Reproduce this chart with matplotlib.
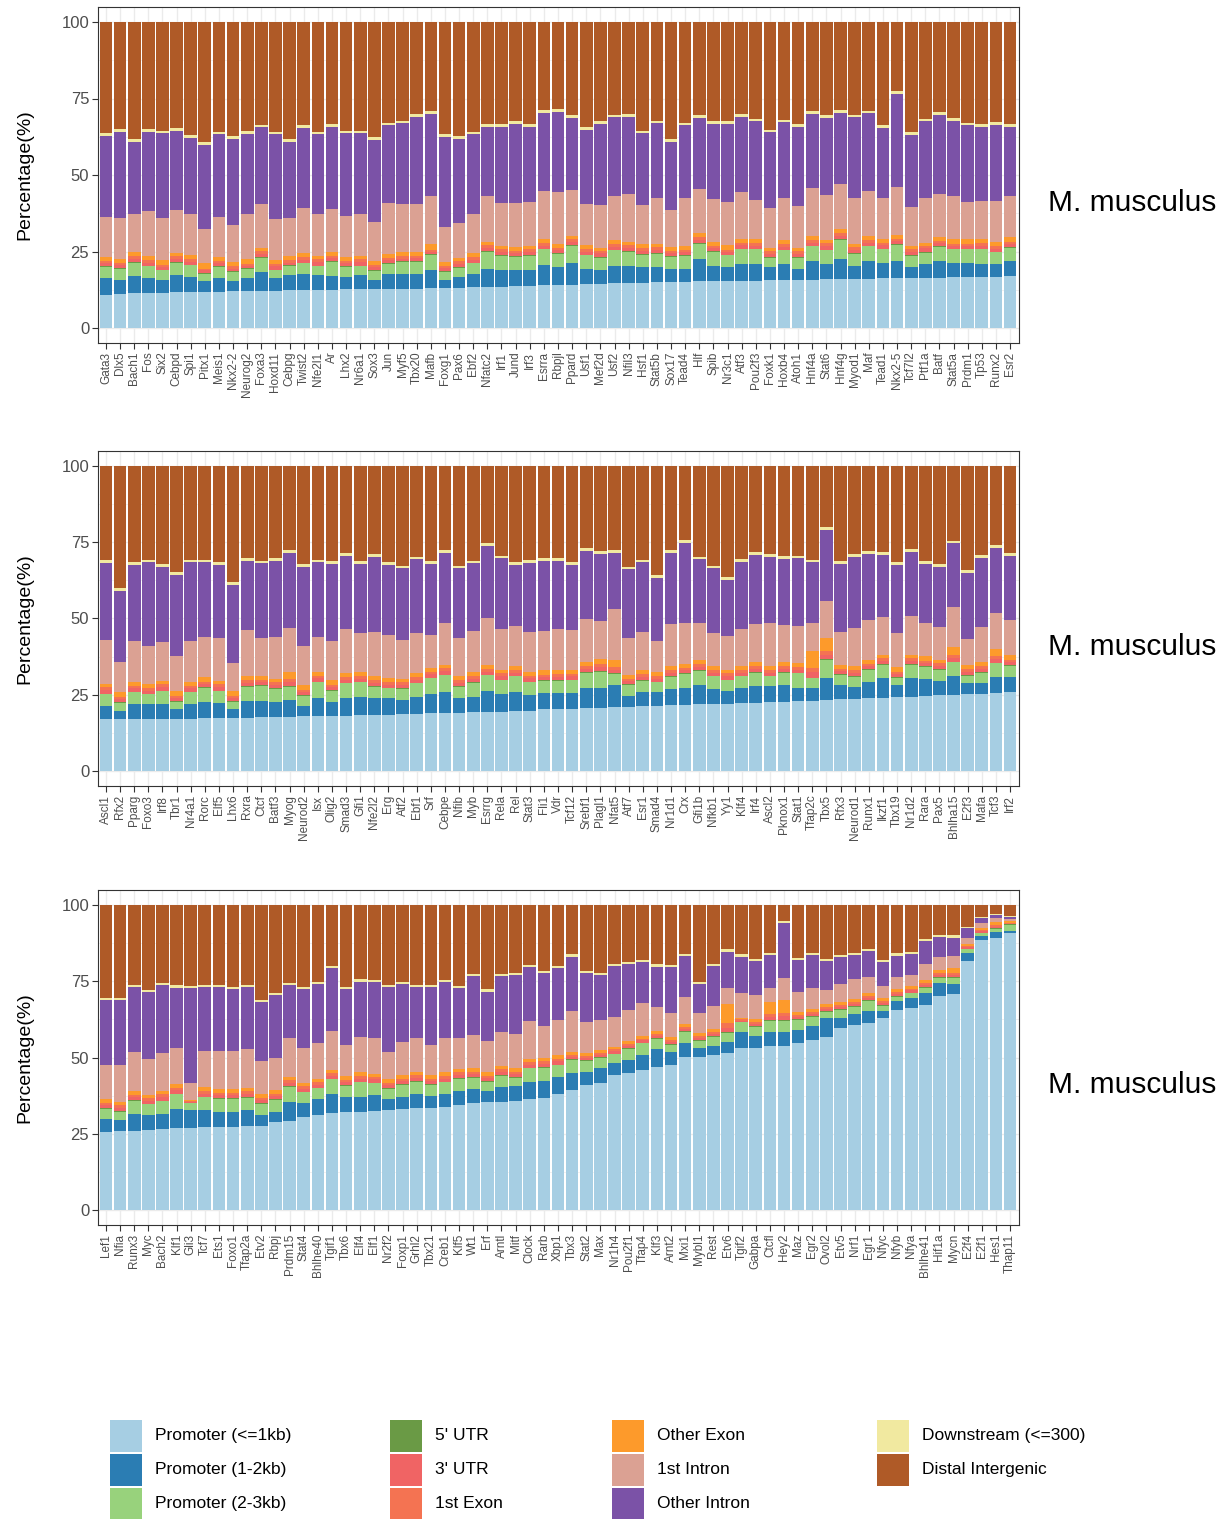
import numpy as np
import matplotlib
matplotlib.use("Agg")
import matplotlib.pyplot as plt
from matplotlib.patches import Rectangle

plt.rcParams['font.family'] = ['Liberation Sans', 'DejaVu Sans']

categories = ["Promoter (<=1kb)", "Promoter (1-2kb)", "Promoter (2-3kb)", "5' UTR", "3' UTR",
              "1st Exon", "Other Exon", "1st Intron", "Other Intron", "Downstream (<=300)",
              "Distal Intergenic"]
colors = ["#A6CEE3", "#2B7DB3", "#98D27C", "#6A9A45", "#F06464", "#F47352", "#FD9A2B",
          "#DBA193", "#7B52A7", "#F1E9A0", "#AF5A27"]

# ---------------- panel 1 ----------------
names1 = ["Gata3", "Dlx5", "Bach1", "Fos", "Six2", "Cebpd", "Spi1", "Pitx1", "Meis1", "Nkx2-2",
          "Neurog2", "Foxa3", "Hoxd11", "Cebpg", "Twist2", "Nfe2l1", "Ar", "Lhx2", "Nr6a1", "Sox3",
          "Jun", "Myf5", "Tbx20", "Mafb", "Foxg1", "Pax6", "Ebf2", "Nfatc2", "Irf1", "Jund",
          "Irf3", "Esrra", "Rbpjl", "Ppard", "Usf1", "Mef2d", "Usf2", "Nfil3", "Hsf1", "Stat5b",
          "Sox17", "Tead4", "Hlf", "Spib", "Nr3c1", "Atf3", "Pou2f3", "Foxk1", "Hoxb4", "Atoh1",
          "Hnf4a", "Stat6", "Hnf4g", "Myod1", "Maf", "Tead1", "Nkx2-5", "Tcf7l2", "Ptf1a", "Batf",
          "Stat5a", "Prdm1", "Tp53", "Runx2", "Esr2"]
prom1kb_1 = [10.9, 11.2, 11.3, 11.5, 11.6, 11.7, 11.8, 11.9, 11.9, 12.0, 12.1, 12.1, 12.2, 12.3,
             12.4, 12.4, 12.5, 12.6, 12.6, 12.7, 12.8, 12.8, 12.9, 13.0, 13.1, 13.2, 13.3, 13.4,
             13.5, 13.6, 13.8, 13.9, 14.1, 14.2, 14.3, 14.5, 14.6, 14.7, 14.8, 14.9, 15.0, 15.1,
             15.2, 15.3, 15.4, 15.5, 15.5, 15.6, 15.7, 15.8, 15.8, 15.9, 16.0, 16.1, 16.1, 16.2,
             16.3, 16.4, 16.4, 16.5, 16.6, 16.6, 16.7, 16.8, 16.9]
prom2kb_1 = [5.3, 4.4, 5.7, 4.9, 4.0, 5.5, 4.9, 3.4, 4.3, 3.3, 4.1, 6.2, 4.0, 4.9, 5.1, 4.8, 4.5,
             4.1, 4.6, 2.9, 4.8, 5.0, 4.6, 5.9, 2.5, 3.4, 4.2, 6.0, 5.4, 5.3, 5.1, 6.6, 5.9, 6.9,
             5.1, 4.4, 5.7, 5.6, 5.2, 5.1, 4.4, 4.3, 7.2, 5.0, 4.4, 5.4, 5.4, 4.2, 5.2, 3.6, 6.0,
             5.0, 6.7, 4.2, 5.7, 5.2, 5.6, 3.6, 4.5, 5.4, 4.8, 4.8, 4.2, 4.1, 5.0]
prom3kb_1 = [3.8, 3.8, 4.4, 3.8, 3.3, 4.1, 3.8, 2.5, 3.8, 3.0, 3.2, 4.6, 2.7, 3.1, 3.6, 3.0, 4.6,
             3.3, 3.0, 3.1, 3.4, 3.8, 4.1, 5.1, 2.7, 3.1, 3.6, 5.5, 4.7, 4.4, 4.7, 5.2, 4.3, 5.8,
             4.4, 4.1, 5.1, 4.6, 4.0, 4.3, 3.9, 4.2, 5.2, 4.6, 4.0, 4.8, 4.8, 3.1, 4.5, 3.5, 4.9,
             4.5, 6.2, 4.0, 4.9, 4.3, 5.2, 3.6, 3.7, 4.6, 4.3, 4.3, 4.8, 3.8, 4.4]
utr5_1 = [0.2] * 65
utr3_1 = [1.0, 0.9, 1.1, 1.0, 0.9, 1.1, 1.0, 0.8, 1.0, 0.9, 0.8, 1.2, 1.0, 0.9, 1.0, 1.1, 1.0,
          0.9, 1.1, 0.9, 1.0, 0.9, 1.0, 0.8, 1.0, 1.1, 1.0, 1.2, 1.1, 1.0, 1.1, 1.0, 1.0, 1.1,
          1.0, 1.2, 1.0, 1.1, 1.0, 1.1, 1.0, 0.9, 1.1, 1.0, 0.9, 1.1, 1.0, 1.1, 1.0, 1.1, 1.0,
          1.2, 1.0, 1.1, 1.0, 1.1, 1.0, 1.1, 1.2, 1.0, 0.9, 0.9, 1.0, 1.0, 0.9]
exon1_1 = [0.8, 0.7, 0.9, 0.8, 0.7, 0.9, 0.8, 0.6, 0.8, 0.7, 0.6, 0.8, 0.8, 0.7, 0.8, 0.9, 0.8,
           0.7, 0.9, 0.7, 0.8, 0.7, 0.8, 0.6, 0.8, 0.9, 0.8, 0.9, 0.9, 0.8, 0.9, 0.8, 0.8, 0.9,
           0.8, 0.9, 0.8, 0.9, 0.8, 0.9, 0.8, 0.7, 0.9, 0.8, 0.7, 0.9, 0.8, 0.9, 0.8, 0.9, 0.8,
           0.9, 0.8, 0.9, 0.8, 0.9, 0.8, 0.9, 0.8, 0.8, 0.7, 0.7, 0.8, 0.8, 0.7]
oexon_1 = [1.3, 1.5, 1.1, 1.3, 1.5, 1.1, 1.3, 1.7, 1.3, 1.5, 1.7, 1.1, 1.3, 1.5, 1.3, 1.1, 1.3,
           1.5, 1.1, 1.5, 1.3, 1.5, 1.3, 1.7, 1.3, 1.1, 1.3, 1.0, 1.1, 1.3, 1.1, 1.3, 1.3, 1.1,
           1.3, 1.0, 1.3, 1.1, 1.3, 1.1, 1.3, 1.5, 1.1, 1.3, 1.5, 1.1, 1.3, 1.1, 1.3, 1.1, 1.3,
           1.0, 1.3, 1.1, 1.3, 1.1, 1.3, 1.1, 1.1, 1.3, 1.5, 1.5, 1.3, 1.3, 1.5]
intron1_1 = [13.1, 13.4, 12.5, 14.7, 13.6, 13.9, 13.4, 11.4, 13.1, 12.2, 14.4, 14.3, 13.4, 12.2,
             14.7, 13.7, 14.0, 13.2, 13.9, 12.5, 16.4, 15.5, 15.5, 15.9, 11.5, 11.2, 12.8, 15.0,
             13.8, 14.3, 14.4, 15.9, 16.9, 14.9, 13.4, 13.9, 14.5, 15.5, 12.9, 15.0, 11.9, 15.5,
             14.4, 13.9, 14.2, 15.3, 12.8, 13.1, 13.7, 13.6, 15.6, 14.7, 14.9, 15.0, 14.8, 13.6,
             15.8, 12.7, 14.5, 13.9, 14.2, 12.3, 12.5, 13.5, 13.6]
intronO_1 = [26.4, 28.1, 23.7, 26.0, 27.8, 25.9, 25.0, 27.3, 26.9, 28.0, 26.3, 25.1, 27.7, 25.1,
             26.4, 26.1, 26.9, 27.1, 26.2, 27.0, 25.5, 26.5, 28.7, 26.8, 29.3, 27.6, 26.1, 22.6,
             25.1, 25.7, 24.4, 25.5, 26.2, 23.5, 24.2, 26.4, 25.6, 25.4, 23.4, 24.3, 22.4, 23.8,
             23.3, 24.5, 25.3, 24.8, 25.7, 24.6, 24.8, 26.0, 24.4, 25.2, 23.3, 26.2, 25.3, 22.9,
             30.2, 23.5, 25.1, 26.0, 24.5, 24.9, 24.3, 24.9, 22.6]
down_1 = [0.9] * 65

# ---------------- panel 2 ----------------
names2 = ["Ascl1", "Rfx2", "Pparg", "Foxo3", "Irf8", "Tbr1", "Nr4a1", "Rorc", "Elf5", "Lhx6",
          "Rxra", "Ctcf", "Batf3", "Myog", "Neurod2", "Isx", "Olig2", "Smad3", "Gfi1", "Nfe2l2",
          "Erg", "Atf2", "Ebf1", "Srf", "Cebpe", "Nfib", "Myb", "Esrrg", "Rela", "Rel", "Stat3",
          "Fli1", "Vdr", "Tcf12", "Srebf1", "Plagl1", "Nfat5", "Atf7", "Esr1", "Smad4", "Nr1d1",
          "Crx", "Gfi1b", "Nfkb1", "Yy1", "Klf4", "Irf4", "Ascl2", "Pknox1", "Stat1", "Tfap2c",
          "Tbx5", "Rfx3", "Neurod1", "Runx1", "Ikzf1", "Tbx19", "Nr1d2", "Rara", "Pax5",
          "Bhlha15", "E2f3", "Mafa", "Tcf3", "Irf2"]
prom1kb_2 = [16.9, 16.9, 17.0, 17.0, 17.1, 17.1, 17.2, 17.3, 17.3, 17.4, 17.5, 17.6, 17.7, 17.8,
             17.9, 18.0, 18.1, 18.2, 18.3, 18.3, 18.4, 18.6, 18.8, 18.9, 19.0, 19.1, 19.2, 19.4,
             19.5, 19.7, 19.8, 20.2, 20.4, 20.5, 20.6, 20.7, 20.9, 21.0, 21.2, 21.4, 21.5, 21.7,
             21.9, 22.0, 22.1, 22.3, 22.4, 22.6, 22.7, 22.9, 23.1, 23.3, 23.5, 23.6, 23.8, 24.0,
             24.2, 24.4, 24.6, 24.8, 25.0, 25.2, 25.4, 25.6, 25.8]
prom2kb_2 = [4.4, 2.8, 4.9, 4.9, 4.9, 3.1, 4.7, 5.4, 4.9, 3.0, 5.6, 5.5, 5.0, 5.5, 3.4, 5.8, 4.6,
             5.6, 6.1, 5.5, 5.4, 4.7, 5.6, 6.3, 6.8, 4.7, 5.2, 6.9, 5.7, 6.3, 5.1, 5.3, 5.1, 5.2,
             6.5, 6.6, 7.3, 3.7, 4.6, 4.4, 5.3, 5.4, 6.3, 5.0, 4.2, 4.9, 5.5, 5.3, 5.5, 4.2, 4.0,
             7.3, 4.7, 4.1, 5.3, 6.4, 4.0, 6.2, 5.6, 4.7, 6.3, 3.5, 3.3, 5.3, 5.1]
prom3kb_2 = [3.9, 2.7, 3.9, 3.2, 4.2, 2.5, 3.9, 4.6, 4.0, 2.3, 4.6, 4.8, 4.2, 4.4, 3.4, 5.3, 3.6,
             4.9, 4.7, 3.9, 3.3, 3.6, 4.3, 5.2, 5.6, 3.9, 4.6, 5.1, 4.6, 5.1, 4.2, 4.1, 4.1, 4.1,
             5.1, 5.3, 3.6, 3.5, 3.8, 3.3, 4.1, 4.7, 4.7, 4.1, 3.5, 3.9, 4.3, 3.2, 4.0, 4.9, 3.3,
             5.8, 3.3, 3.2, 4.0, 4.4, 2.4, 4.2, 4.0, 3.6, 4.3, 2.6, 3.5, 4.4, 3.6]
utr5_2 = [0.2] * 65
utr3_2 = [1.1, 1.0, 1.1, 1.0, 1.1, 1.0, 1.1, 1.0, 1.1, 0.9, 1.1, 1.0, 1.1, 1.2, 1.0, 1.1, 1.0,
          1.1, 1.0, 1.1, 1.0, 1.1, 1.0, 1.1, 1.2, 1.0, 1.1, 1.0, 1.1, 1.0, 1.1, 1.0, 1.1, 1.0,
          1.1, 1.3, 1.2, 1.0, 1.1, 1.0, 1.1, 1.0, 1.1, 1.0, 1.1, 1.0, 1.1, 1.0, 1.1, 1.0, 2.0,
          1.6, 1.0, 1.1, 1.0, 1.1, 1.0, 1.1, 1.0, 1.1, 1.3, 1.0, 1.1, 1.2, 1.0]
exon1_2 = [0.9, 0.8, 0.9, 0.8, 0.9, 0.8, 0.9, 0.8, 0.9, 0.7, 0.9, 0.8, 0.9, 1.0, 0.8, 0.9, 0.8,
           0.9, 0.8, 0.9, 0.8, 0.9, 0.8, 0.9, 1.0, 0.8, 0.9, 0.8, 0.9, 0.8, 0.9, 0.8, 0.9, 0.8,
           0.9, 1.0, 1.0, 0.8, 0.9, 0.8, 0.9, 0.8, 0.9, 0.8, 0.9, 0.8, 0.9, 0.8, 0.9, 0.8, 1.3,
           1.2, 0.8, 0.9, 0.8, 0.9, 0.8, 0.9, 0.8, 0.9, 1.0, 0.8, 0.9, 1.0, 0.8]
oexon_2 = [1.2, 1.4, 1.2, 1.4, 1.2, 1.4, 1.2, 1.4, 1.2, 1.6, 1.2, 1.4, 1.2, 2.4, 1.4, 1.2, 1.4,
           1.2, 1.4, 1.2, 1.4, 1.2, 1.4, 1.2, 1.0, 1.4, 1.2, 1.4, 1.2, 1.4, 1.2, 1.4, 1.2, 1.4,
           1.2, 1.5, 2.1, 1.4, 1.2, 1.4, 1.2, 1.4, 1.2, 1.4, 1.2, 1.4, 1.2, 1.4, 1.2, 1.4, 5.5,
           4.2, 1.4, 1.2, 1.4, 1.2, 1.4, 1.2, 1.4, 1.2, 2.5, 1.4, 1.2, 2.2, 1.4]
intron1_2 = [14.4, 10.0, 13.4, 12.5, 12.8, 11.6, 13.5, 13.3, 13.9, 9.4, 15.1, 12.2, 13.7, 14.3,
             12.9, 11.3, 12.9, 14.3, 12.6, 14.6, 14.1, 12.7, 13.3, 10.8, 13.8, 12.4, 13.5, 15.3,
             13.4, 13.0, 13.0, 13.0, 13.4, 13.0, 14.1, 12.7, 16.7, 11.9, 12.7, 10.2, 13.9, 13.2,
             12.1, 10.6, 11.1, 11.9, 12.6, 13.9, 12.3, 12.1, 9.0, 12.2, 10.8, 12.5, 13.0, 12.2,
             11.1, 12.6, 11.0, 10.6, 13.1, 8.5, 11.7, 11.8, 11.6]
intronO_2 = [25.3, 23.3, 24.9, 27.4, 24.6, 26.5, 25.7, 24.4, 24.0, 25.5, 22.7, 24.6, 24.9, 24.8,
             25.8, 24.6, 25.3, 24.1, 22.8, 24.6, 22.9, 23.4, 24.0, 23.2, 22.8, 22.9, 22.2, 23.7,
             23.1, 20.0, 22.8, 22.9, 22.5, 21.3, 22.5, 21.8, 18.6, 22.6, 22.7, 20.5, 23.2, 26.5,
             21.0, 21.3, 18.3, 22.2, 22.6, 21.9, 21.6, 22.2, 20.0, 23.2, 22.2, 23.5, 21.6, 20.4,
             22.4, 21.1, 19.3, 19.9, 20.9, 21.8, 22.6, 21.5, 21.1]
down_2 = [0.9] * 65

# ---------------- panel 3 ----------------
names3 = ["Lef1", "Nfia", "Runx3", "Myc", "Bach2", "Klf1", "Gli3", "Tcf7", "Ets1", "Foxo1",
          "Tfap2a", "Etv2", "Rbpj", "Prdm15", "Stat4", "Bhlhe40", "Tgif1", "Tbx6", "Elf4", "Elf1",
          "Nr2f2", "Foxp1", "Grhl2", "Tbx21", "Creb1", "Klf5", "Wt1", "Erf", "Arntl", "Mitf",
          "Clock", "Rarb", "Xbp1", "Tbx3", "Stat2", "Max", "Nr1h4", "Pou2f1", "Tfap4", "Klf3",
          "Arnt2", "Mxi1", "Mybl1", "Rest", "Etv6", "Tgif2", "Gabpa", "Ctcfl", "Hey2", "Maz",
          "Egr2", "Ovol2", "Etv5", "Nrf1", "Egr1", "Nfyc", "Nfyb", "Nfya", "Bhlhe41", "Hif1a",
          "Mycn", "E2f4", "E2f1", "Hes1", "Thap11"]
prom1kb_3 = [25.7, 25.9, 26.0, 26.1, 26.6, 26.9, 27.0, 27.1, 27.2, 27.3, 27.5, 27.5, 28.7, 29.2,
             30.4, 31.1, 31.7, 32.2, 32.2, 32.5, 32.8, 33.0, 33.3, 33.3, 33.9, 34.4, 35.0, 35.3,
             35.5, 35.8, 36.3, 36.6, 38.0, 39.3, 41.0, 41.5, 44.3, 44.8, 45.9, 47.0, 47.5, 50.3,
             50.3, 50.8, 51.4, 53.0, 53.2, 53.8, 53.8, 54.6, 55.7, 56.8, 59.6, 60.7, 61.2, 62.8,
             65.6, 66.3, 67.2, 70.2, 70.7, 81.6, 88.5, 89.1, 90.7]
prom2kb_3 = [4.1, 3.6, 5.4, 5.0, 4.8, 6.2, 5.8, 5.7, 5.0, 4.9, 5.3, 3.6, 3.5, 6.1, 4.6, 5.2, 6.4,
             5.0, 5.0, 5.2, 3.6, 4.2, 4.7, 4.2, 4.1, 4.7, 4.6, 3.8, 4.9, 4.9, 5.8, 5.8, 5.5, 5.5,
             4.4, 4.9, 4.0, 4.4, 4.9, 5.8, 4.4, 4.6, 2.9, 3.1, 3.8, 5.5, 3.8, 4.7, 4.7, 4.4, 4.7,
             6.0, 3.5, 3.5, 4.0, 2.4, 2.9, 3.1, 4.1, 4.1, 3.4, 2.6, 1.4, 1.9, 0.8]
prom3kb_3 = [3.3, 2.7, 4.4, 3.5, 4.3, 4.9, 2.2, 4.2, 4.2, 4.2, 4.0, 3.7, 3.9, 5.1, 3.6, 3.6, 4.7,
             3.5, 4.7, 3.8, 3.3, 3.8, 4.1, 3.5, 3.9, 3.9, 3.8, 3.0, 3.6, 2.7, 4.3, 4.3, 4.0, 4.4,
             3.5, 3.5, 2.8, 3.6, 3.8, 3.3, 2.2, 3.6, 2.2, 2.9, 2.9, 3.0, 3.1, 3.5, 3.5, 3.3, 3.0,
             2.2, 2.5, 2.5, 3.3, 1.8, 1.4, 1.6, 1.6, 1.9, 2.1, 1.3, 0.8, 1.1, 1.9]
utr5_3 = [0.2] * 65
utr3_3 = [1.0, 1.1, 1.0, 1.0, 1.1, 1.0, 0.3, 1.0, 1.1, 1.0, 1.1, 1.0, 1.0, 1.1, 1.0, 1.0, 1.1,
          1.0, 1.0, 1.1, 1.0, 1.0, 1.1, 1.0, 1.0, 1.1, 1.0, 1.0, 1.1, 1.0, 1.0, 1.1, 1.0, 0.8,
          0.7, 0.8, 0.8, 0.7, 0.8, 0.8, 0.7, 0.8, 0.8, 0.8, 1.5, 0.4, 0.8, 1.2, 1.3, 0.8, 0.7,
          0.8, 0.8, 0.7, 0.8, 0.8, 0.7, 0.8, 0.8, 0.7, 0.8, 0.4, 0.5, 0.6, 0.3]
exon1_3 = [0.8, 0.8, 0.8, 0.8, 0.9, 0.8, 0.2, 0.8, 0.8, 0.8, 0.9, 0.8, 0.8, 0.8, 0.8, 0.8, 0.9,
           0.8, 0.8, 0.8, 0.8, 0.8, 0.9, 0.8, 0.8, 0.8, 0.8, 0.8, 0.9, 0.8, 0.8, 0.8, 0.8, 0.6,
           0.6, 0.6, 0.6, 0.6, 0.6, 0.6, 0.6, 0.6, 0.6, 0.6, 1.4, 0.4, 0.6, 1.0, 1.0, 0.6, 0.6,
           0.6, 0.6, 0.6, 0.6, 0.6, 0.6, 0.6, 0.6, 0.6, 0.6, 0.4, 0.5, 0.6, 0.3]
oexon_3 = [1.2, 1.1, 1.2, 1.2, 1.0, 1.2, 0.3, 1.2, 1.1, 1.2, 1.0, 1.2, 1.2, 1.1, 1.2, 1.2, 1.0,
           1.2, 1.2, 1.1, 1.2, 1.2, 1.0, 1.2, 1.2, 1.1, 1.2, 1.2, 1.0, 1.2, 1.2, 1.1, 1.2, 0.9,
           1.0, 0.9, 0.9, 1.0, 0.9, 0.9, 1.0, 0.9, 0.9, 0.9, 6.2, 0.5, 0.9, 3.7, 4.4, 0.9, 1.0,
           0.9, 0.9, 1.0, 0.9, 0.9, 1.0, 0.9, 0.9, 1.0, 1.5, 0.6, 0.7, 1.0, 0.5]
intron1_3 = [11.2, 12.1, 12.7, 11.6, 12.5, 11.8, 5.5, 12.0, 12.5, 12.5, 12.7, 10.9, 10.6, 12.9,
             11.2, 11.5, 12.8, 10.2, 11.5, 11.8, 8.8, 10.8, 11.0, 9.9, 11.2, 10.3, 10.8, 10.1,
             11.3, 11.1, 12.4, 10.5, 11.6, 13.5, 10.1, 9.9, 9.8, 10.3, 10.7, 8.1, 7.9, 8.9, 6.6,
             7.7, 5.5, 8.0, 7.9, 4.6, 7.3, 6.8, 7.0, 4.6, 5.9, 6.4, 5.5, 3.9, 4.1, 3.5, 5.3, 4.4,
             4.0, 2.0, 1.6, 1.3, 0.6]
intronO_3 = [21.4, 21.4, 21.5, 22.0, 22.4, 19.9, 31.2, 21.0, 21.1, 20.2, 20.5, 19.4, 20.6, 17.3,
             19.3, 19.5, 20.4, 18.4, 18.3, 18.1, 21.5, 19.1, 16.9, 19.1, 18.3, 16.2, 19.3, 16.2,
             18.2, 19.3, 17.5, 17.2, 16.9, 17.9, 16.1, 14.7, 16.6, 14.9, 13.4, 13.1, 15.0, 13.4,
             9.6, 13.0, 11.8, 12.1, 11.1, 10.9, 18.0, 10.4, 10.7, 9.5, 8.8, 8.0, 8.4, 7.8, 6.9,
             6.9, 7.5, 6.3, 6.0, 3.2, 1.4, 0.9, 0.9]
down_3 = [0.7] * 61 + [0.4, 0.4, 0.3, 0.3]

W, H = 1231, 1519


def stack(*layers):
    # distal intergenic is whatever is left up to 100 %
    arr = [np.array(l, dtype=float) for l in layers]
    distal = 100 - np.sum(arr, axis=0)
    return arr + [distal]


panels = [
    (names1, stack(prom1kb_1, prom2kb_1, prom3kb_1, utr5_1, utr3_1, exon1_1, oexon_1,
                   intron1_1, intronO_1, down_1), 6.7, 343.3, 203),
    (names2, stack(prom1kb_2, prom2kb_2, prom3kb_2, utr5_2, utr3_2, exon1_2, oexon_2,
                   intron1_2, intronO_2, down_2), 450.7, 786.3, 647),
    (names3, stack(prom1kb_3, prom2kb_3, prom3kb_3, utr5_3, utr3_3, exon1_3, oexon_3,
                   intron1_3, intronO_3, down_3), 889.7, 1225.3, 1085),
]

fig = plt.figure(figsize=(W / 100, H / 100), dpi=100)

for names, layers, top, bot, lab_y in panels:
    ax = fig.add_axes([97.5 / W, 1 - bot / H, 921 / W, (bot - top) / H])
    x = np.arange(1, len(names) + 1)
    bottom = np.zeros(len(names))
    for vals, col in zip(layers, colors):
        ax.bar(x, vals, bottom=bottom, width=0.9, color=col, linewidth=0, zorder=2)
        bottom += vals
    ax.set_xlim(0.4, len(names) + 0.6)
    ax.set_ylim(-5, 105)
    ax.set_xticks(x)
    ax.set_xticklabels(names, rotation=90, fontsize=8.5, color="#4D4D4D")
    ax.set_yticks([0, 25, 50, 75, 100])
    ax.set_yticklabels(["0", "25", "50", "75", "100"], fontsize=12, color="#4D4D4D")
    ax.set_yticks([12.5, 37.5, 62.5, 87.5], minor=True)
    ax.tick_params(which="major", length=4, width=0.8, color="#333333", pad=2)
    ax.tick_params(which="minor", length=0)
    ax.set_axisbelow(True)
    ax.grid(which="major", color="#EBEBEB", linewidth=1.0)
    ax.grid(which="minor", axis="y", color="#EBEBEB", linewidth=0.5)
    for s in ax.spines.values():
        s.set_color("#333333")
        s.set_linewidth(0.8)
    ax.set_ylabel("Percentage(%)", fontsize=14, labelpad=20)
    fig.text(1048 / W, 1 - lab_y / H, "M. musculus", fontsize=21.5, va="center", ha="left")

# legend, laid out in pixel units at the bottom of the figure
lg = fig.add_axes([0, 0, 1, 110 / H])
lg.set_xlim(0, W)
lg.set_ylim(1519, 1409)
lg.axis("off")
col_x = [110, 390, 612, 877]
row_top = [1420, 1454, 1488]
for i, (lab, col) in enumerate(zip(categories, colors)):
    c, r = i // 3, i % 3
    lg.add_patch(Rectangle((col_x[c], row_top[r]), 32, 32, facecolor=col, edgecolor="none"))
    lg.text(col_x[c] + 45, row_top[r] + 16, lab, fontsize=12.5, va="center", ha="left")

fig.savefig("out.png", dpi=100)
